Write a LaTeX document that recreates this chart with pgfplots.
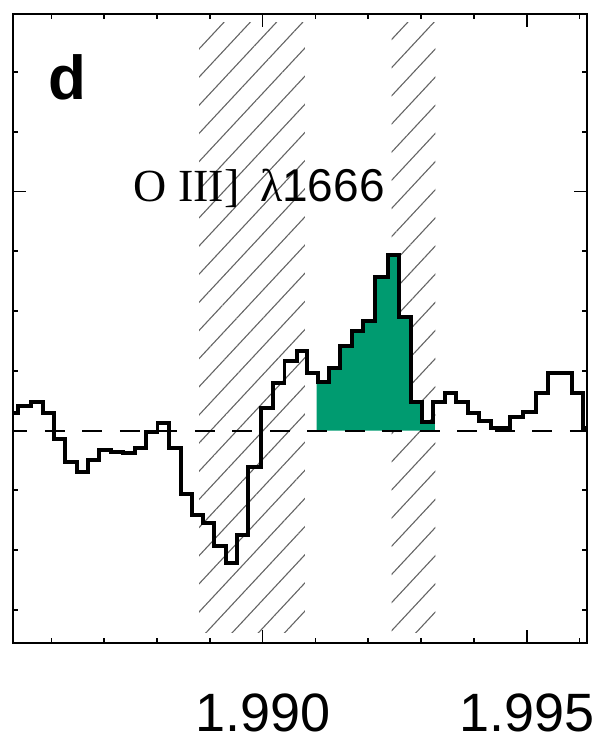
\documentclass[border=0pt]{standalone}
\usepackage{fontspec}
\setmainfont{Liberation Serif}
\setsansfont{Liberation Sans}
\usepackage{pgfplots}
\pgfplotsset{compat=1.18}
\usetikzlibrary{patterns.meta}
\definecolor{fillgreen}{RGB}{0,155,112}
\definecolor{hatchgray}{RGB}{100,100,100}
\begin{document}
\begin{tikzpicture}
\begin{axis}[
  scale only axis, width=286.85pt, height=314.5pt,
  at={(0,0)}, anchor=south west,
  xmin=1.985277, xmax=1.996142, ymin=-0.889, ymax=1.7427,
  xtick={1.990,1.995}, xticklabels={1.990,1.995},
  minor xtick={1.986,1.987,1.988,1.989,1.991,1.992,1.993,1.994,1.996},
  ytick={0,1}, yticklabels={},
  minor ytick={-0.75,-0.5,-0.25,0.25,0.5,0.75,1.25,1.5},
  tick align=inside, major tick length=6.5pt, minor tick length=2.5pt,
  axis line style={line width=1.2pt},
  every tick/.style={line width=0.8pt, black},
  xticklabel style={font=\sffamily\fontsize{27}{30}\selectfont, inner sep=0pt, yshift=-25pt},
  axis on top,
]
% hatched regions
\addplot[draw=none, pattern={Lines[angle=47,distance=9.6pt,line width=0.55pt]}, pattern color=hatchgray]
  coordinates {(1.988794,-0.847)(1.988794,1.709)(1.990801,1.709)(1.990801,-0.847)} -- cycle;
\addplot[draw=none, pattern={Lines[angle=47,distance=9.6pt,line width=0.55pt]}, pattern color=hatchgray]
  coordinates {(1.992443,-0.847)(1.992443,1.709)(1.993271,1.709)(1.993271,-0.847)} -- cycle;
% green fill
\addplot[const plot, draw=none, fill=fillgreen] coordinates {
(1.991023,0.2042)(1.991261,0.2603)(1.991464,0.3536)(1.991686,0.4176)(1.991905,0.4594)
(1.992127,0.6435)(1.992379,0.7343)(1.992587,0.4736)(1.992809,0.1205)(1.993011,0.0368)(1.993263,0.0368)
} \closedcycle;
% zero line
\addplot[black, line width=1pt, dash pattern=on 10pt off 8.75pt, dash phase=3pt] coordinates {(1.985277,0)(1.996142,0)};
% spectrum
\addplot[const plot, black, line width=1.9pt, line join=miter] coordinates {
(1.985277,0.072)(1.985371,0.1025)(1.985606,0.1205)(1.985833,0.072)(1.986053,-0.0368)
(1.986256,-0.1305)(1.986477,-0.1724)(1.986686,-0.1234)(1.986905,-0.0816)(1.987127,-0.0887)
(1.987360,-0.0954)(1.987581,-0.072)(1.987790,-0.0075)(1.988008,0.0326)(1.988231,-0.072)
(1.988447,-0.2669)(1.988655,-0.3536)(1.988875,-0.3858)(1.989078,-0.4833)(1.989305,-0.5556)
(1.989519,-0.4372)(1.989727,-0.1515)(1.989968,0.0929)(1.990195,0.1975)(1.990413,0.2921)
(1.990644,0.3339)(1.990833,0.2393)(1.991053,0.2042)(1.991261,0.2603)(1.991464,0.3536)
(1.991686,0.4176)(1.991905,0.4594)(1.992127,0.6435)(1.992379,0.7343)(1.992587,0.4736)
(1.992809,0.1205)(1.993011,0.0368)(1.993231,0.1205)(1.993453,0.1556)(1.993661,0.1205)
(1.993883,0.0745)(1.994102,0.041)(1.994324,0.0092)(1.994684,0.0577)(1.994936,0.0787)
(1.995176,0.1556)(1.995409,0.2418)(1.995852,0.1556)(1.996072,0.0092)(1.996142,0.0092)
};
\node[font=\sffamily\bfseries\fontsize{31}{34}\selectfont, inner sep=0pt] at (rel axis cs:0.0936,0.900) {d};
\node[inner sep=0pt] at (rel axis cs:0.4283,0.7234) {\fontsize{23}{26}\selectfont O III]\hspace{0.45em}λ{\sffamily 1666}};
\end{axis}
\pgfresetboundingbox
\path (-6.65pt,-49pt) rectangle (293.85pt,321.5pt);
\end{tikzpicture}
\end{document}
